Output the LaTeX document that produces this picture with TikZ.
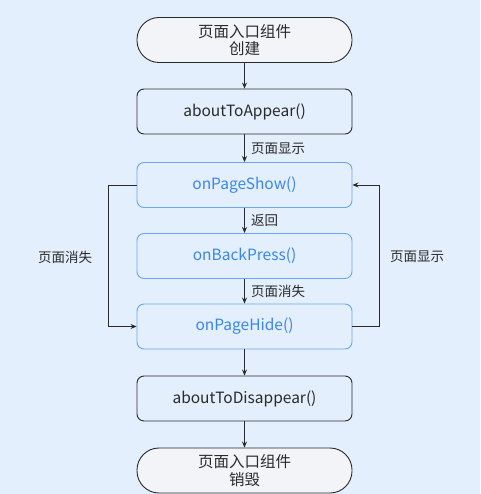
\documentclass[tikz,border=0pt]{standalone}
\usepackage{fontspec}
\setmainfont{Noto Sans CJK SC}
\usetikzlibrary{arrows.meta}
\definecolor{bgblue}{HTML}{E3EFFC}
\definecolor{termfill}{HTML}{F2F4F7}
\definecolor{hmblue}{HTML}{3A86F0}
\definecolor{hmline}{HTML}{6AA6EE}
\definecolor{inkgray}{HTML}{2A2A2A}
\tikzset{
 termbox/.style={draw=inkgray, line width=0.9pt, fill=termfill, rounded corners=22pt,
   minimum width=215pt, minimum height=45pt, inner sep=0pt, align=center,
   font=\fontsize{15.5}{17.5}\selectfont, text=inkgray},
 funcbox/.style={draw=inkgray, line width=0.9pt, rounded corners=7pt,
   minimum width=215pt, minimum height=45pt, inner sep=0pt,
   font=\fontsize{15.5}{17.5}\selectfont, text=inkgray},
 lifebox/.style={funcbox, draw=hmline, text=hmblue},
 flow/.style={->, line width=0.8pt, draw=inkgray},
 tag/.style={font=\fontsize{13.5}{15}\selectfont, text=inkgray}
}
\begin{document}
\begin{tikzpicture}[x=1pt, y=-1pt, >={Stealth[length=6pt,width=5pt]}]
 \fill[bgblue] (0,0) rectangle (480,494);
 \useasboundingbox (0,0) rectangle (480,494);
 % boxes
 \node[termbox] (create) at (244.5,40) {页面入口组件\\创建};
 \node[funcbox] (appear) at (244.5,111.5) {aboutToAppear()};
 \node[lifebox] (show) at (244.5,185) {onPageShow()};
 \node[lifebox] (back) at (244.5,256) {onBackPress()};
 \node[lifebox] (hide) at (244.5,326.5) {onPageHide()};
 \node[funcbox] (disappear) at (244.5,398.5) {aboutToDisappear()};
 \node[termbox] (destroy) at (244.5,470.5) {页面入口组件\\销毁};
 % main line
 \draw[flow] (create) -- (appear);
 \draw[flow] (appear) -- node[tag, right=3pt] (tshow) {页面显示} (show);
 \draw[flow] (show) -- node[tag, right=3pt] (tback) {返回} (back);
 \draw[flow] (back) -- node[tag, right=3pt] (thide) {页面消失} (hide);
 \draw[flow] (hide) -- (disappear);
 \draw[flow] (disappear) -- (destroy);
 % side loops
 \draw[flow] (show.west) -- ++(-28,0) |- (hide.west);
 \draw[flow] (hide.east) -- ++(27,0) |- (show.east);
 \node[tag] (lhide) at (65,257) {页面消失};
 \node[tag] (rshow) at (417,257) {页面显示};
\end{tikzpicture}
\end{document}
